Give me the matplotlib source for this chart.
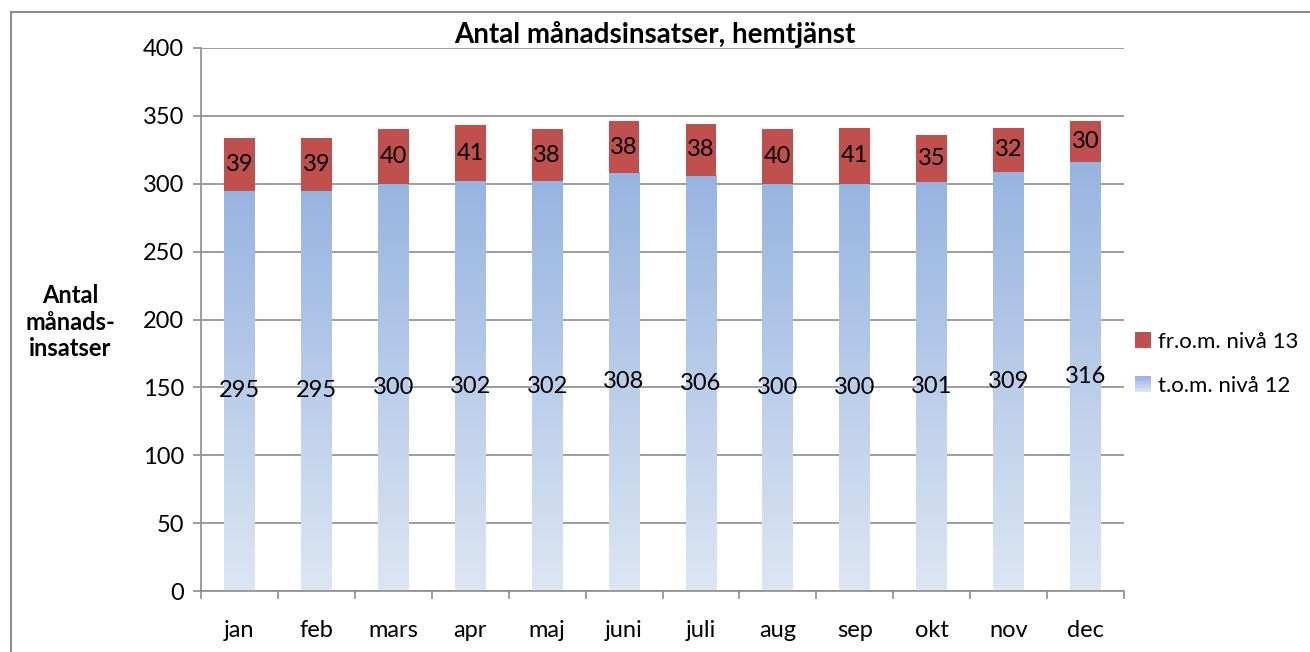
import numpy as np
import matplotlib
matplotlib.use("Agg")
import matplotlib.pyplot as plt
from matplotlib.patches import Rectangle, Patch
from matplotlib.legend_handler import HandlerBase
from matplotlib.colors import LinearSegmentedColormap
from matplotlib.lines import Line2D

months = ["jan", "feb", "mars", "apr", "maj", "juni", "juli", "aug", "sep", "okt", "nov", "dec"]
low = [295, 295, 300, 302, 302, 308, 306, 300, 300, 301, 309, 316]   # t.o.m. nivå 12
high = [39, 39, 40, 41, 38, 38, 38, 40, 41, 35, 32, 30]              # fr.o.m. nivå 13
label_low = "t.o.m. nivå 12"
label_high = "fr.o.m. nivå 13"

plt.rcParams['font.family'] = ['Lato', 'DejaVu Sans']

red = "#c0504d"
grid_c = "#8c8c8c"
cmap = LinearSegmentedColormap.from_list("blu", ["#dde6f3", "#97b4e1"])
grad = np.linspace(0, 1, 256).reshape(-1, 1)


class HandlerGradient(HandlerBase):
    def create_artists(self, legend, orig_handle, xdescent, ydescent, width, height, fontsize, trans):
        arts = []
        n = 20
        s = min(width, height)
        x0 = -xdescent + (width - s) / 2
        for i in range(n):
            r = Rectangle((x0, -ydescent + s * i / n), s, s / n + 0.3,
                          facecolor=cmap(i / (n - 1)), edgecolor="none", transform=trans)
            arts.append(r)
        return arts


fig = plt.figure(figsize=(13.1, 6.52), dpi=100)
ax = fig.add_axes([201 / 1310, 1 - 591 / 652, (1124 - 201) / 1310, (591 - 48) / 652])

x = np.arange(len(months))
w = 0.4
for xi, lo, hi in zip(x, low, high):
    ax.imshow(grad, cmap=cmap, origin="lower", aspect="auto",
              extent=[xi - w / 2, xi + w / 2, 0, lo], zorder=2, interpolation="bilinear")
    ax.text(xi, lo / 2, str(lo), ha="center", va="center", fontsize=17, zorder=4)
ax.bar(x, high, w, bottom=low, color=red, zorder=2)
for xi, lo, hi in zip(x, low, high):
    ax.text(xi, lo + hi / 2, str(hi), ha="center", va="center", fontsize=17, zorder=4)

ax.set_xlim(-0.5, len(months) - 0.5)
ax.set_ylim(0, 400)
ax.set_yticks(np.arange(0, 401, 50))
ax.yaxis.grid(True, color=grid_c, lw=1.2, zorder=0)
ax.set_axisbelow(True)
for s in ["top", "right"]:
    ax.spines[s].set_visible(False)
for s in ["left", "bottom"]:
    ax.spines[s].set_color(grid_c)
    ax.spines[s].set_linewidth(1.2)
ax.tick_params(axis="y", length=6, color=grid_c, width=1.2, labelsize=17, pad=6)
ax.set_xticks(np.arange(-0.5, len(months), 1))
ax.set_xticklabels([])
ax.set_xticks(x, minor=True)
ax.set_xticklabels(months, minor=True)
ax.tick_params(axis="x", which="major", length=6, color=grid_c, width=1.2)
ax.tick_params(axis="x", which="minor", length=0, labelsize=17, pad=21)

fig.text(0.5, 1 - 34 / 652, "Antal månadsinsatser, hemtjänst", ha="center", va="center",
         fontsize=20, fontweight="bold")
fig.text(70 / 1310, 1 - 322 / 652, "Antal\nmånads-\ninsatser", ha="center", va="center",
         fontsize=17, fontweight="bold", linespacing=1.2)

handles = [Patch(facecolor=red), Patch(facecolor="#b0c6e8")]
leg = fig.legend(handles, [label_high, label_low], loc="center left",
                 bbox_to_anchor=(1115 / 1310, 1 - 364 / 652), frameon=False, fontsize=16,
                 handlelength=0.7, handleheight=0.7, handletextpad=0.35, labelspacing=1.1,
                 handler_map={handles[1]: HandlerGradient()})

# outer chart border
fig.add_artist(Line2D([11 / 1310, 11 / 1310], [0, 1 - 12 / 652], transform=fig.transFigure,
                      color="#8c8c8c", lw=1.5))
fig.add_artist(Line2D([11 / 1310, 1], [1 - 12 / 652, 1 - 12 / 652], transform=fig.transFigure,
                      color="#8c8c8c", lw=1.5))

fig.savefig("out.png", dpi=100)
